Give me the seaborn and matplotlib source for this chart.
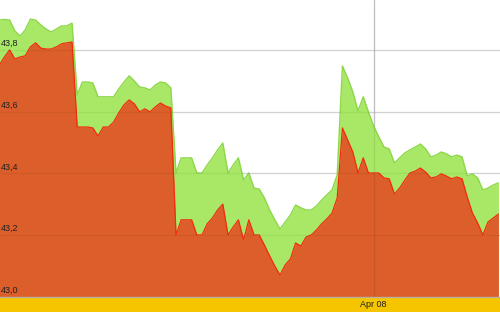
import numpy as np
import pandas as pd
import matplotlib
matplotlib.use("Agg")
import matplotlib.pyplot as plt
import matplotlib.transforms as mtransforms
import seaborn as sns

# ---- data ----
upper = [43.897, 43.899, 43.897, 43.862, 43.845, 43.865, 43.900, 43.897, 43.881, 43.868,
         43.858, 43.868, 43.878, 43.878, 43.887, 43.654, 43.696, 43.696, 43.693, 43.648,
         43.648, 43.648, 43.648, 43.674, 43.696, 43.716, 43.699, 43.680, 43.677, 43.670,
         43.686, 43.696, 43.693, 43.677, 43.401, 43.450, 43.450, 43.450, 43.401, 43.401,
         43.427, 43.450, 43.476, 43.498, 43.401, 43.427, 43.450, 43.378, 43.401, 43.352,
         43.349, 43.320, 43.281, 43.249, 43.219, 43.242, 43.265, 43.297, 43.288, 43.281,
         43.281, 43.294, 43.313, 43.330, 43.346, 43.395, 43.748, 43.709, 43.664, 43.602,
         43.648, 43.599, 43.553, 43.518, 43.485, 43.479, 43.433, 43.450, 43.466, 43.476,
         43.485, 43.495, 43.479, 43.453, 43.459, 43.469, 43.463, 43.453, 43.459, 43.453,
         43.391, 43.398, 43.385, 43.346, 43.352, 43.362, 43.369]
lower = [43.751, 43.777, 43.800, 43.771, 43.777, 43.781, 43.810, 43.823, 43.806, 43.803,
         43.803, 43.810, 43.820, 43.823, 43.826, 43.550, 43.550, 43.550, 43.547, 43.521,
         43.550, 43.550, 43.566, 43.596, 43.622, 43.638, 43.625, 43.599, 43.609, 43.599,
         43.615, 43.628, 43.618, 43.612, 43.200, 43.249, 43.249, 43.249, 43.200, 43.200,
         43.236, 43.255, 43.281, 43.300, 43.200, 43.226, 43.249, 43.184, 43.249, 43.200,
         43.200, 43.167, 43.132, 43.099, 43.070, 43.103, 43.122, 43.174, 43.164, 43.193,
         43.200, 43.216, 43.236, 43.252, 43.271, 43.320, 43.547, 43.508, 43.469, 43.401,
         43.450, 43.401, 43.401, 43.401, 43.385, 43.382, 43.333, 43.352, 43.378, 43.401,
         43.407, 43.417, 43.404, 43.385, 43.388, 43.398, 43.391, 43.382, 43.388, 43.382,
         43.323, 43.271, 43.239, 43.200, 43.242, 43.255, 43.268]
y_ticks = [43.0, 43.2, 43.4, 43.6, 43.8]
y_tick_labels = ["43,0", "43,2", "43,4", "43,6", "43,8"]
x_tick_pos = [72]
x_tick_labels = ["Apr 08"]

df = pd.DataFrame({"t": np.arange(len(upper)), "upper": upper, "lower": lower})

sns.set_theme(style="white")
plt.rcParams["font.family"] = ["Liberation Sans", "DejaVu Sans"]

YELLOW = "#f5c600"
fig = plt.figure(figsize=(5.0, 3.12), dpi=100, facecolor=YELLOW)
ax = fig.add_axes([0, 15.4 / 312, 1, 296.6 / 312])
ax.set_facecolor("white")

ymin, ymax = 43.0, 43.962
ax.fill_between(df["t"], ymin, df["upper"], color="#a8e866", lw=0, zorder=1)
ax.fill_between(df["t"], ymin, df["lower"], color="#dc5e2b", lw=0, zorder=2)
sns.lineplot(data=df, x="t", y="upper", color="#8cd846", lw=1.0, ax=ax, zorder=3)
sns.lineplot(data=df, x="t", y="lower", color="#f52a10", lw=0.9, ax=ax, zorder=4)

ax.set_xlim(0.154, 96.3)
ax.set_ylim(ymin, ymax)

# grid lines: solid on the white background, faint over the areas
for v in y_ticks[1:]:
    ax.axhline(v, color="#dddddd", lw=0.9, zorder=0.5)
    ax.axhline(v, color="black", alpha=0.05, lw=0.9, zorder=5)
for v in x_tick_pos:
    ax.axvline(v, color="#cfcfcf", lw=0.9, zorder=0.5)
    ax.axvline(v, color="black", alpha=0.08, lw=0.9, zorder=5)

# y labels inside the plot
trans = mtransforms.blended_transform_factory(ax.transAxes, ax.transData)
offset = mtransforms.ScaledTranslation(0, 1.2 / 72, fig.dpi_scale_trans)
for v, lab in zip(y_ticks, y_tick_labels):
    ax.text(0.001, v, lab, transform=trans + offset, ha="left", va="bottom",
            fontsize=6.5, color="#222222", zorder=6)

ax.set_yticks([])
ax.set_xticks(x_tick_pos)
ax.set_xticklabels(x_tick_labels, fontsize=6.5, color="#222222")
ax.tick_params(axis="x", length=0, pad=2.5)
ax.set_xlabel("")
ax.set_ylabel("")
for s in ["top", "left", "right"]:
    ax.spines[s].set_visible(False)
ax.spines["bottom"].set_color("#b8b0a0")
ax.spines["bottom"].set_linewidth(1.0)

fig.savefig("out.png", dpi=100, facecolor=YELLOW)
